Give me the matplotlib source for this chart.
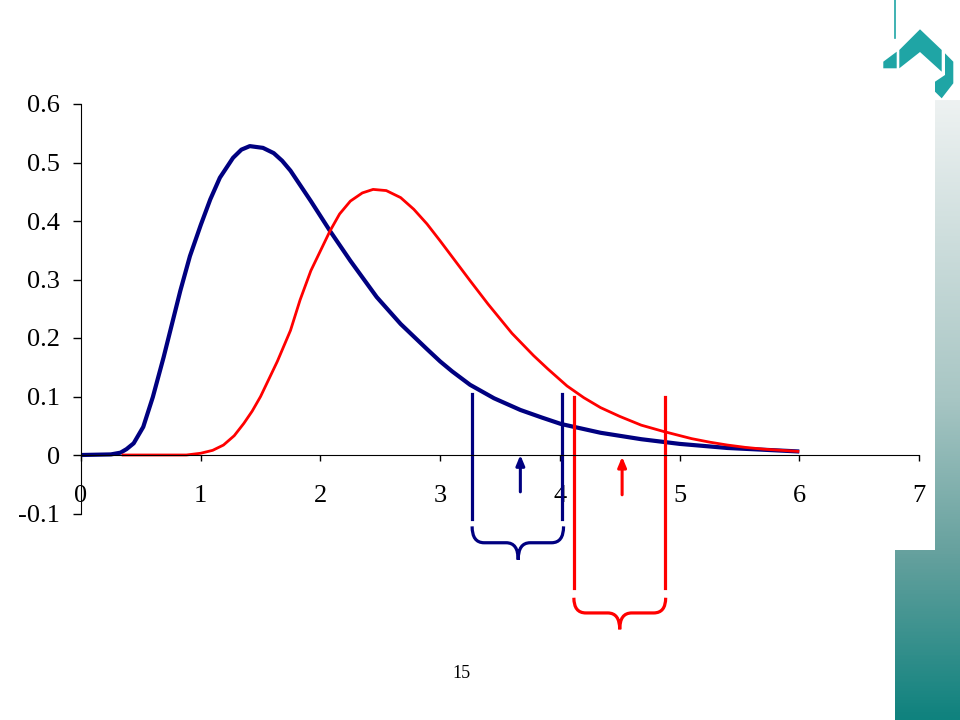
import numpy as np
import matplotlib
matplotlib.use("Agg")
import matplotlib.pyplot as plt
from matplotlib.path import Path
from matplotlib.patches import PathPatch, Polygon
from matplotlib.colors import LinearSegmentedColormap

plt.rcParams["font.family"] = ["Liberation Serif", "DejaVu Serif"]

# curve values
navy_x = [0, 0.25, 0.33, 0.38, 0.44, 0.52, 0.60, 0.69, 0.76, 0.83, 0.91, 1.00, 1.08, 1.16,
          1.27, 1.34, 1.41, 1.52, 1.61, 1.68, 1.75, 1.92, 2.08, 2.25, 2.47, 2.67, 2.89, 3.00,
          3.10, 3.25, 3.45, 3.67, 3.85, 4.01, 4.34, 4.68, 5.00, 5.40, 5.70, 6.00]
navy_y = [0, 0.001, 0.004, 0.010, 0.020, 0.048, 0.099, 0.167, 0.224, 0.281, 0.340, 0.393,
          0.437, 0.474, 0.508, 0.522, 0.528, 0.525, 0.516, 0.503, 0.486, 0.434, 0.383, 0.332,
          0.270, 0.224, 0.181, 0.160, 0.143, 0.120, 0.097, 0.077, 0.064, 0.053, 0.038, 0.027,
          0.019, 0.012, 0.009, 0.006]
red_x = [0.34, 0.88, 1.00, 1.10, 1.19, 1.28, 1.36, 1.43, 1.50, 1.64, 1.75, 1.83, 1.92, 2.08,
         2.16, 2.25, 2.35, 2.44, 2.55, 2.67, 2.78, 2.89, 3.00, 3.25, 3.40, 3.60, 3.78, 3.90,
         4.06, 4.20, 4.34, 4.50, 4.68, 4.87, 5.10, 5.25, 5.40, 5.55, 5.70, 6.00]
red_y = [0, 0, 0.003, 0.008, 0.017, 0.033, 0.054, 0.075, 0.100, 0.160, 0.213, 0.265, 0.315,
         0.383, 0.412, 0.434, 0.448, 0.454, 0.452, 0.440, 0.420, 0.395, 0.366, 0.298, 0.258,
         0.208, 0.170, 0.147, 0.118, 0.098, 0.081, 0.066, 0.051, 0.040, 0.028, 0.022, 0.017,
         0.013, 0.010, 0.006]

x_ticks = [0, 1, 2, 3, 4, 5, 6, 7]
y_ticks = [-0.1, 0, 0.1, 0.2, 0.3, 0.4, 0.5, 0.6]
y_labels = ["-0.1", "0", "0.1", "0.2", "0.3", "0.4", "0.5", "0.6"]

# interval marks (bars, arrows, braces)
navy_bars = [3.267, 4.02]
red_bars = [4.117, 4.876]
navy_arrow = 3.67
red_arrow = 4.52

NAVY = "#000080"
RED = "#ff0000"
TEAL = "#1fa5a5"


def brace(ax, x0, x1, xc, y_top, y_mid, y_tip, color, rx=0.1):
    verts = [(x0, y_top), (x0, y_mid), (x0 + rx, y_mid),
             (xc - rx, y_mid),
             (xc, y_mid), (xc, y_tip),
             (xc, y_mid), (xc + rx, y_mid),
             (x1 - rx, y_mid),
             (x1, y_mid), (x1, y_top)]
    codes = [Path.MOVETO, Path.CURVE3, Path.CURVE3,
             Path.LINETO,
             Path.CURVE3, Path.CURVE3,
             Path.CURVE3, Path.CURVE3,
             Path.LINETO,
             Path.CURVE3, Path.CURVE3]
    ax.add_patch(PathPatch(Path(verts, codes), fill=False, edgecolor=color,
                           linewidth=2.3, clip_on=False, capstyle="butt"))


fig = plt.figure(figsize=(9.6, 7.2), dpi=100)

# slide decoration, pixel coordinates
bg = fig.add_axes([0, 0, 1, 1])
bg.axis("off")
grad = LinearSegmentedColormap.from_list(
    "slide", [(0, "#eef2f2"), (0.48, "#a8c6c4"), (0.73, "#66a19e"), (1, "#0f827e")])
g = np.linspace(0, 1, 256).reshape(-1, 1)
bg.imshow(g, cmap=grad, extent=[935, 960, 720, 100], aspect="auto",
          vmin=0, vmax=1, origin="upper")
frac = (550 - 100) / 620
g2 = np.linspace(frac, 1, 128).reshape(-1, 1)
bg.imshow(g2, cmap=grad, extent=[895, 960, 720, 550], aspect="auto",
          vmin=0, vmax=1, origin="upper")
bg.plot([895, 895], [0, 38], color=TEAL, lw=1.2)
bg.add_patch(Polygon([(883.3, 61.7), (896.7, 51.7), (896.7, 68.3), (883.3, 68.3)],
                     color=TEAL, lw=0))
bg.add_patch(Polygon([(899.3, 50), (920, 29.3), (941.7, 50), (941.7, 71.7),
                      (920, 52), (899.3, 68.3)], color=TEAL, lw=0))
bg.add_patch(Polygon([(945, 53.3), (953.3, 61.7), (953.3, 83.3), (941.7, 98.3),
                      (935, 91.7), (935, 81.7), (945, 75)], color=TEAL, lw=0))
bg.set_xlim(0, 960)
bg.set_ylim(720, 0)
bg.text(461, 673, "15", fontsize=13, ha="center", va="center")

ax = fig.add_axes([81 / 960, (720 - 513.5) / 720, (919 - 81) / 960, (513.5 - 104) / 720])
ax.patch.set_alpha(0)

ax.plot(navy_x, navy_y, color=NAVY, lw=3.0, clip_on=False,
        solid_capstyle="butt", solid_joinstyle="round")
ax.plot(red_x, red_y, color=RED, lw=2.0, clip_on=False,
        solid_capstyle="butt", solid_joinstyle="round")

for xb in navy_bars:
    ax.plot([xb, xb], [0.104, -0.109], color=NAVY, lw=2.3, clip_on=False)
for xb in red_bars:
    ax.plot([xb, xb], [0.099, -0.228], color=RED, lw=2.3, clip_on=False)

ax.annotate("", xy=(navy_arrow, 0.0), xytext=(navy_arrow, -0.063),
            arrowprops=dict(arrowstyle="-|>,head_length=0.6,head_width=0.25",
                            color=NAVY, lw=2.2, shrinkA=0, shrinkB=0),
            annotation_clip=False)
ax.annotate("", xy=(red_arrow, -0.003), xytext=(red_arrow, -0.068),
            arrowprops=dict(arrowstyle="-|>,head_length=0.6,head_width=0.25",
                            color=RED, lw=2.2, shrinkA=0, shrinkB=0),
            annotation_clip=False)

brace(ax, 3.267, 4.031, 3.652, -0.122, -0.150, -0.179, NAVY)
brace(ax, 4.117, 4.884, 4.50, -0.244, -0.270, -0.298, RED)

ax.set_xlim(0, 7)
ax.set_ylim(-0.1, 0.6)
ax.spines["top"].set_visible(False)
ax.spines["right"].set_visible(False)
ax.spines["bottom"].set_position(("data", 0))
ax.set_xticks(x_ticks)
ax.set_xticklabels([str(t) for t in x_ticks])
ax.set_yticks(y_ticks)
ax.set_yticklabels(y_labels)
ax.tick_params(axis="x", direction="out", length=4.5, width=1, pad=17, labelsize=19)
ax.tick_params(axis="y", direction="out", length=6, width=1, pad=9, labelsize=19)

fig.savefig("out.png", dpi=100, facecolor="white")
